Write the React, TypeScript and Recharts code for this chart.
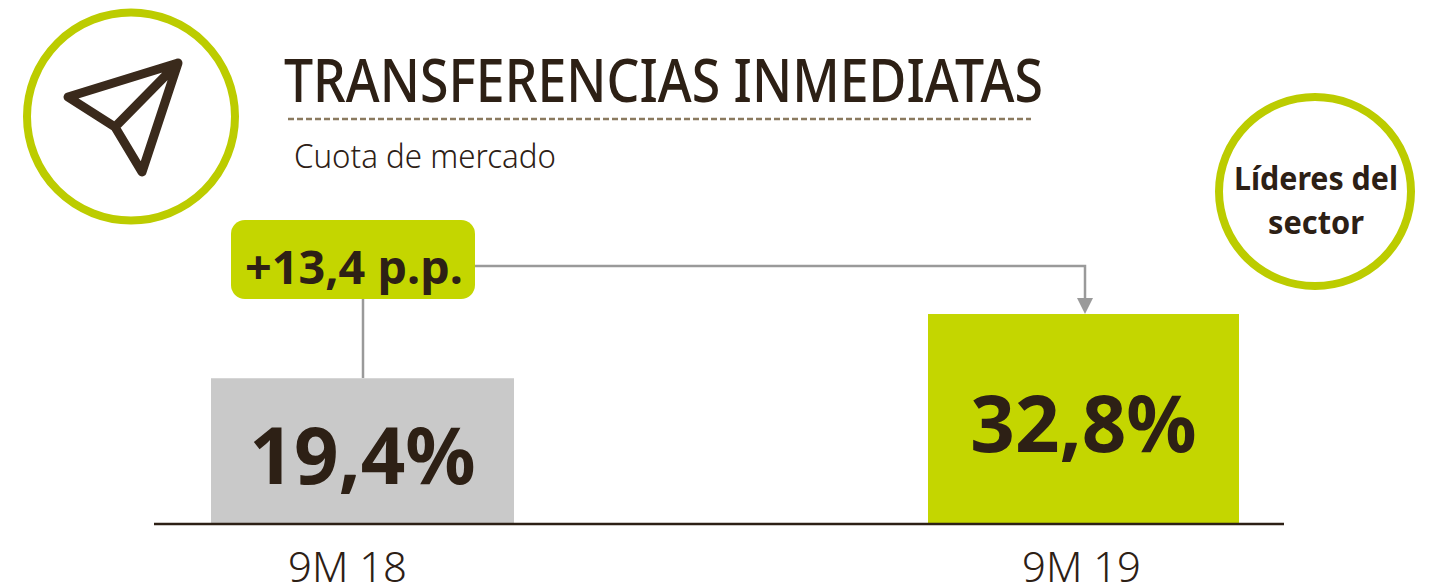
import { BarChart, Bar, Cell, XAxis, YAxis, LabelList } from 'recharts';

const periods = ['9M 18', '9M 19'];
const shares = [19.4, 32.8];
const shareLabels = ['19,4%', '32,8%'];
const barColors = ['#c9c9c9', '#c4d600'];
const barWidths = [303, 311];
const tickShifts = [-14.5, -1.5];

// the bars in the source do not start at zero, so the axis floor sits below it
const AXIS_FLOOR = -11;
const AXIS_TOP = 40;

const chartData = periods.map((period, i) => ({
  period,
  range: [AXIS_FLOOR, shares[i]],
  label: shareLabels[i],
}));

const DARK = '#2d2015';
const LIME = '#c4d600';
const RING = '#bccc00';
const GREY = '#9a9a9a';
const FONT = '"Noto Sans", sans-serif';

function SizedBar(props: any) {
  const { x, y, width, height, fill, index } = props;
  const w = barWidths[index];
  return <rect x={x + width / 2 - w / 2} y={y} width={w} height={height} fill={fill} />;
}

function PeriodTick(props: any) {
  const { x, y, payload, index } = props;
  return (
    <text
      x={x + tickShifts[index]}
      y={y + 50}
      textAnchor="middle"
      fill={DARK}
      fontSize={43}
      fontWeight={300}
      fontFamily={FONT}
      textLength={119}
      lengthAdjust="spacingAndGlyphs"
    >
      {payload.value}
    </text>
  );
}

export default function App() {
  return (
    <div style={{ position: 'absolute', left: 0, top: 0, width: 1438, height: 588, background: '#fff' }}>
      <BarChart
        width={1438}
        height={588}
        data={chartData}
        margin={{ top: 279.5, right: 154, bottom: 0, left: 154 }}
      >
        <XAxis
          dataKey="period"
          scale="point"
          padding={{ left: 208, right: 201 }}
          height={64}
          axisLine={{ stroke: DARK, strokeWidth: 2.5 }}
          tickLine={false}
          tick={PeriodTick}
        />
        <YAxis hide domain={[AXIS_FLOOR, AXIS_TOP]} />
        <Bar dataKey="range" barSize={306} isAnimationActive={false} shape={SizedBar}>
          {chartData.map((d, i) => (
            <Cell key={d.period} fill={barColors[i]} />
          ))}
          <LabelList
            dataKey="label"
            position="center"
            dy={5}
            fill={DARK}
            fontSize={78}
            fontWeight={700}
            fontFamily={FONT}
          />
        </Bar>

        {/* icon ring */}
        <circle cx={131} cy={116.5} r={104} fill="none" stroke={RING} strokeWidth={8} />
        <path
          d="M178 63 L68 97 L115 127 L142 172 Z M178 63 L115 127"
          fill="none"
          stroke="#3a2a1c"
          strokeWidth={9}
          strokeLinejoin="round"
          strokeLinecap="round"
        />

        {/* heading */}
        <text x={284} y={102} fontSize={60} fontWeight={500} fontFamily={FONT} fill={DARK} textLength={759} lengthAdjust="spacingAndGlyphs">
          TRANSFERENCIAS INMEDIATAS
        </text>
        <line x1={288} y1={119} x2={1031} y2={119} stroke="#8a7a5f" strokeWidth={2.5} strokeDasharray="6 3" />
        <text x={294} y={168} fontSize={33} fontWeight={300} fontFamily={FONT} fill={DARK} textLength={262} lengthAdjust="spacingAndGlyphs">
          Cuota de mercado
        </text>

        {/* sector badge */}
        <ellipse cx={1315} cy={191.5} rx={96} ry={94.5} fill="none" stroke={RING} strokeWidth={8} />
        <text x={1316} y={190} textAnchor="middle" fontSize={32} fontWeight={700} fontFamily={FONT} fill={DARK} textLength={164} lengthAdjust="spacingAndGlyphs">
          Líderes del
        </text>
        <text x={1316} y={234} textAnchor="middle" fontSize={32} fontWeight={700} fontFamily={FONT} fill={DARK} textLength={96} lengthAdjust="spacingAndGlyphs">
          sector
        </text>

        {/* change callout and connectors */}
        <line x1={363} y1={299} x2={363} y2={378} stroke={GREY} strokeWidth={2.5} />
        <path d="M475 266 H1085 V300" fill="none" stroke={GREY} strokeWidth={2.5} />
        <path d="M1077 298 H1093 L1085 314 Z" fill={GREY} />
        <rect x={231} y={220} width={244} height={79} rx={14} fill={LIME} />
        <text x={245} y={284} fontSize={47} fontWeight={700} fontFamily={FONT} fill={DARK} textLength={218} lengthAdjust="spacingAndGlyphs">
          +13,4 p.p.
        </text>
      </BarChart>
    </div>
  );
}
